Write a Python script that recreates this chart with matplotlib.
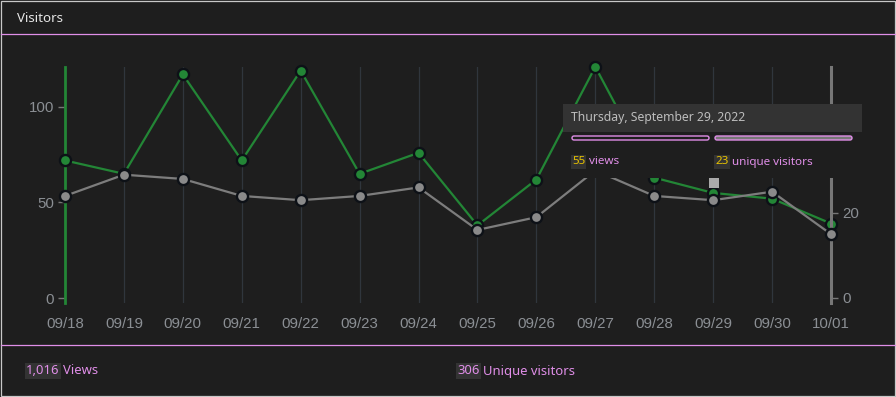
import matplotlib
matplotlib.use('Agg')
from matplotlib import pyplot as plt
from matplotlib.patches import Rectangle, FancyBboxPatch

# data
dates = ['09/18', '09/19', '09/20', '09/21', '09/22', '09/23', '09/24',
         '09/25', '09/26', '09/27', '09/28', '09/29', '09/30', '10/01']
views = [72, 65, 117, 72, 119, 65, 76, 38, 62, 121, 63, 55, 52, 39]
uniques = [24, 29, 28, 24, 23, 24, 26, 16, 19, 30, 24, 23, 25, 15]
views_ticks = [0, 50, 100]
uniques_ticks = [0, 20, 40]
total_views = '1,016'
total_uniques = '306'
hover_day = 'Thursday, September 29, 2022'
hover_idx = 11

BG = '#1e1e1e'
GREEN = '#238636'
GREY = '#7d7d7d'
VIOLET = '#e08ee8'
LABEL = '#8b8f94'
GRID = '#30363d'
UI_FONT = ['Noto Sans', 'DejaVu Sans']
AX_FONT = ['Liberation Sans', 'DejaVu Sans']

W, H = 896, 397


def px_to_fig(x0, y0, x1, y1):
    ''' pixel box (top-left origin) to figure fraction rect '''
    return [x0 / W, 1 - y1 / H, (x1 - x0) / W, (y1 - y0) / H]


def draw_chart(fig):
    ''' the two-axis line chart '''
    ax = fig.add_axes(px_to_fig(65, 67, 831, 303))
    ax.set_facecolor('none')
    x = list(range(len(dates)))
    ax.set_xlim(0, len(dates) - 1)
    ax.set_ylim(-2.6, 120.9)
    ax.set_xticks(x)
    ax.set_xticklabels(dates, fontsize=10.8, color=LABEL, family=AX_FONT)
    ax.tick_params(axis='x', length=0, pad=10)
    ax.set_yticks(views_ticks)
    ax.set_yticklabels([str(v) for v in views_ticks], fontsize=10.8,
                       color=LABEL, family=AX_FONT)
    ax.tick_params(axis='y', length=5, width=1, color='#777777', pad=3)
    for xi in x[1:-1]:
        ax.axvline(xi, color=GRID, lw=0.9, zorder=0)
    for s in ['top', 'bottom', 'right']:
        ax.spines[s].set_visible(False)
    ax.spines['left'].set_color(GREEN)
    ax.spines['left'].set_linewidth(2.0)
    ax.plot(x, views, color=GREEN, lw=1.6, marker='o', ms=8,
            mfc=GREEN, mec='#0d1117', mew=1.7, zorder=3, clip_on=False)

    ax2 = ax.twinx()
    ax2.set_ylim(-1.2, 54.35)
    ax2.set_yticks(uniques_ticks)
    ax2.set_yticklabels([str(v) for v in uniques_ticks], fontsize=10.8,
                        color=LABEL, family=AX_FONT)
    ax2.tick_params(axis='y', length=5, width=1, color='#777777', pad=3)
    for s in ['top', 'bottom', 'left']:
        ax2.spines[s].set_visible(False)
    ax2.spines['right'].set_color('#777777')
    ax2.spines['right'].set_linewidth(2.2)
    ax2.plot(x, uniques, color=GREY, lw=1.6, marker='o', ms=8,
             mfc='#8a8a8a', mec='#0d1117', mew=1.7, zorder=3, clip_on=False)
    return ax, ax2


def label_with_number(ov, x, y, num, rest, num_color, size):
    ''' number on a dark patch followed by a word '''
    t = ov.text(x, y, num, color=num_color, fontsize=size, family=UI_FONT,
                ha='left', va='center',
                bbox=dict(boxstyle='square,pad=0.1', fc='#333333', ec='none'))
    ov.annotate(rest, xy=(1, 0.5), xycoords=t, xytext=(2.5, 0),
                textcoords='offset points', ha='left', va='center',
                color=VIOLET, fontsize=size, family=UI_FONT)


def draw_frame(fig):
    ''' header, footer, borders and the hover tooltip in pixel coords '''
    ov = fig.add_axes([0, 0, 1, 1])
    ov.set_zorder(10)
    ov.set_xlim(0, W)
    ov.set_ylim(H, 0)
    ov.axis('off')
    ov.patch.set_visible(False)

    # borders and dividers
    ov.add_patch(Rectangle((0.5, 0.5), W - 1.5, 395, fill=False,
                           ec='#c8c8c8', lw=0.9))
    ov.plot([1, W - 1], [34, 34], color=VIOLET, lw=0.9)
    ov.plot([1, W - 1], [345, 345], color=VIOLET, lw=0.9)
    ov.text(17, 18, 'Visitors', color='#e6e6e6', fontsize=9.6,
            family=UI_FONT, weight='bold', ha='left', va='center')

    label_with_number(ov, 26, 371, total_views, 'Views', VIOLET, 9.4)
    label_with_number(ov, 457, 371, total_uniques, 'Unique visitors', VIOLET, 9.4)

    # tooltip
    ov.add_patch(Rectangle((563, 132), 299, 46, fc=BG, ec='none'))
    ov.add_patch(Rectangle((563, 104), 299, 28, fc='#333333', ec='none'))
    ov.text(571, 118, hover_day, color='#bdbdbd', fontsize=8.8,
            family=UI_FONT, ha='left', va='center')
    ov.add_patch(FancyBboxPatch((572, 136), 137, 4,
                                boxstyle='round,pad=0,rounding_size=2',
                                fc=BG, ec=VIOLET, lw=1.0))
    ov.add_patch(FancyBboxPatch((715, 136), 137, 4,
                                boxstyle='round,pad=0,rounding_size=2',
                                fc='#777777', ec=VIOLET, lw=1.0))
    label_with_number(ov, 572, 162, str(views[hover_idx]), 'views',
                      '#e8c300', 8.4)
    label_with_number(ov, 715, 162, str(uniques[hover_idx]),
                      'unique visitors', '#e8c300', 8.4)
    ov.add_patch(Rectangle((709, 178), 10, 10, fc='#aaaaaa', ec='none'))
    return ov


def make_figure():
    fig = plt.figure(figsize=(W / 100, H / 100), dpi=100)
    fig.patch.set_facecolor(BG)
    draw_chart(fig)
    draw_frame(fig)
    fig.savefig('out.png', dpi=100, facecolor=BG)


if __name__ == '__main__':
    make_figure()
